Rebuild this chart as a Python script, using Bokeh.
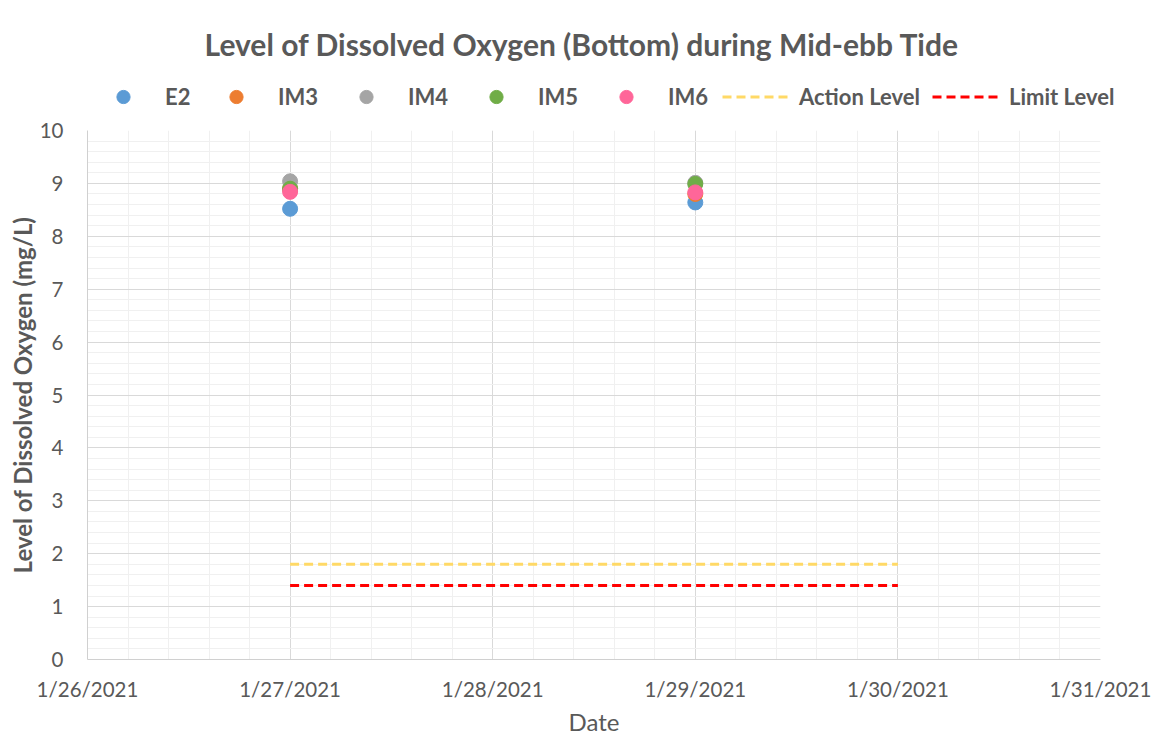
import pandas as pd
from bokeh.plotting import figure
from bokeh.layouts import column, row
from bokeh.models import (FixedTicker, Range1d, Legend, LegendItem, CustomJSTickFormatter)
from bokeh.embed import file_html
from bokeh.resources import INLINE

# ---- data ----
dates = ["2021-01-27", "2021-01-29"]
e2 = [8.52, 8.64]
im3 = [8.90, 8.80]
im4 = [9.04, 9.01]
im5 = [8.90, 8.99]
im6 = [8.84, 8.83]
level_dates = ["2021-01-27", "2021-01-30"]
action_level = [1.8, 1.8]
limit_level = [1.4, 1.4]
tick_dates = ["2021-01-26", "2021-01-27", "2021-01-28", "2021-01-29", "2021-01-30", "2021-01-31"]
y_ticks = [0, 1, 2, 3, 4, 5, 6, 7, 8, 9, 10]
series_names = ["E2", "IM3", "IM4", "IM5", "IM6"]
series_values = [e2, im3, im4, im5, im6]
series_colors = ["#5b9bd5", "#ed7d31", "#a5a5a5", "#70ad47", "#ff6699"]

x = pd.to_datetime(dates)
xl = pd.to_datetime(level_dates)
ticks = [d.value // 10**6 for d in pd.to_datetime(tick_dates)]
day = 86400000
minor_x = [ticks[0] + i * day / 5 for i in range(5 * (len(ticks) - 1) + 1)]
minor_y = [i / 5 for i in range(0, 51)]

FONT = "Lato"
GREY = "#595959"
W = 1163

# ---- header: title + legend ----
h = figure(width=W, height=116, output_backend="svg", toolbar_location=None,
           x_range=Range1d(0, 1), y_range=Range1d(0, 1),
           x_axis_location=None, y_axis_location=None,
           min_border_left=0, min_border_right=0, min_border_bottom=0, min_border_top=0)
h.grid.visible = False
h.outline_line_color = None
h.title.text = "Level of Dissolved Oxygen (Bottom) during Mid-ebb Tide"
h.title.align = "center"
h.title.text_font = FONT
h.title.text_font_size = "30px"
h.title.text_color = GREY
h.title.text_font_style = "bold"
h.title.standoff = 46

# ---- main plot ----
p = figure(width=W, height=622, output_backend="svg", toolbar_location=None,
           x_axis_type="datetime",
           x_range=Range1d(ticks[0], ticks[-1]), y_range=Range1d(0, 10),
           min_border_left=87, min_border_right=63, min_border_bottom=79, min_border_top=14)
p.outline_line_color = None

legend_x = [88, 201, 331, 461, 591, 722, 932]
legend_items = []
for name, vals, col in zip(series_names, series_values, series_colors):
    p.scatter(x, vals, size=15, color=col, line_color=col)
    # legend proxy in the header (its data lie outside the header's view)
    proxy = h.scatter(x, vals, size=13, color=col, line_color=col)
    legend_items.append((name, proxy))
p.line(xl, action_level, line_color="#ffd966", line_width=3, line_dash="9 5")
p.line(xl, limit_level, line_color="#ff0000", line_width=3, line_dash="9 5")
da = h.line(xl, action_level, line_color="#ffd966", line_width=3, line_dash="9 5")
dl = h.line(xl, limit_level, line_color="#ff0000", line_width=3, line_dash="9 5")
legend_items.append(("Action Level", da))
legend_items.append(("Limit Level", dl))

for (label, r), lx in zip(legend_items, legend_x):
    lg = Legend(items=[LegendItem(label=label, renderers=[r])], orientation="horizontal",
                location=(lx, 3), glyph_width=70, glyph_height=33, label_standoff=7,
                border_line_color=None, background_fill_alpha=0,
                label_text_font=FONT, label_text_font_style="bold",
                label_text_font_size="22px", label_text_color=GREY,
                padding=0, margin=0)
    h.add_layout(lg, "center")

# axes
p.xaxis.ticker = FixedTicker(ticks=ticks, minor_ticks=minor_x)
p.xaxis.formatter = CustomJSTickFormatter(code="""
const d = new Date(tick);
return (d.getUTCMonth()+1) + '/' + d.getUTCDate() + '/' + d.getUTCFullYear();
""")
p.yaxis.ticker = FixedTicker(ticks=y_ticks, minor_ticks=minor_y)
for ax in (p.xaxis[0], p.yaxis[0]):
    ax.major_tick_line_color = None
    ax.minor_tick_line_color = None
    ax.axis_line_color = "#d0d0d0"
    ax.major_label_text_font = FONT
    ax.major_label_text_font_size = "20.5px"
    ax.major_label_text_color = GREY
    ax.axis_label_text_font = FONT
    ax.axis_label_text_color = GREY
p.xaxis.axis_label = "Date"
p.xaxis.axis_label_text_font_style = "normal"
p.xaxis.axis_label_text_font_size = "24px"
p.xaxis.major_label_standoff = 11
p.xaxis.axis_label_standoff = 3
p.yaxis.axis_label = "Level of Dissolved Oxygen (mg/L)"
p.yaxis.axis_label_text_font_style = "bold"
p.yaxis.axis_label_text_font_size = "24px"
p.yaxis.major_label_standoff = 18
p.yaxis.axis_label_standoff = 0

for g in (p.xgrid[0], p.ygrid[0]):
    g.grid_line_color = "#d9d9d9"
    g.grid_line_width = 1
    g.minor_grid_line_color = "#f0f0f0"
    g.minor_grid_line_width = 1

layout = column(row(h), p, spacing=0)
open("out.html", "w").write(file_html(layout, INLINE))
